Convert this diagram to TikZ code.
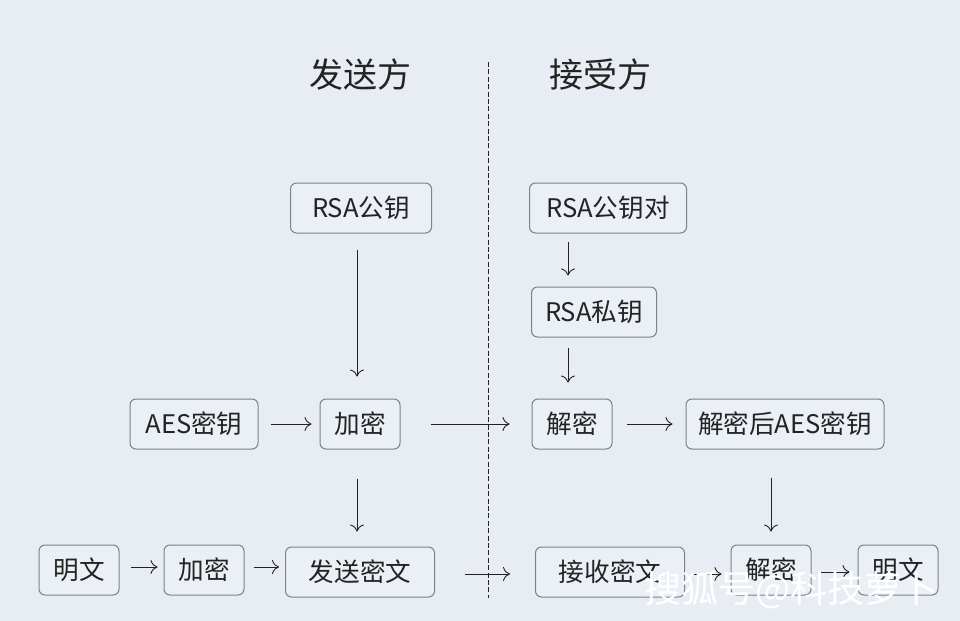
\documentclass[tikz,border=0pt]{standalone}
\usepackage{fontspec}
\setmainfont{Noto Sans CJK SC}
\usetikzlibrary{arrows.meta}

\definecolor{bgcol}{RGB}{232,237,243}
\definecolor{boxfill}{RGB}{235,240,246}
\definecolor{boxline}{RGB}{125,130,136}
\definecolor{txtcol}{RGB}{35,35,35}

\tikzset{
  keybox/.style={draw=boxline, fill=boxfill, rounded corners=3pt, line width=0.5pt,
    minimum height=25pt, inner sep=0pt, text=txtcol, font=\fontsize{12.8}{14}\selectfont},
  flow/.style={-{To[length=3.5pt,width=7pt]}, draw=txtcol, line width=0.45pt},
  side/.style={text=txtcol, font=\fontsize{17}{20}\selectfont}
}

\begin{document}
\begin{tikzpicture}[x=0.5pt,y=0.5pt,yscale=-1,xscale=1]
			\fill[bgcol] (0,0) rectangle (960,621);
			\useasboundingbox (0,0) rectangle (960,621);
			
			% Text Node
			\node[side] (send) at (360,75) {发送方};
			% Text Node
			\node[side] (recv) at (600,75) {接受方};
			%Straight Lines
			\coordinate (divtop) at (488,62);
			\coordinate (divbot) at (488,598);
			\draw[draw=txtcol, line width=0.45pt, dash pattern=on 2.5pt off 1.2pt] (divtop) -- (divbot);
			
			% sender side
			\node[keybox, minimum width=70.5pt] (rsapub) at (361,208) {RSA公钥};
			\node[keybox, minimum width=64pt] (aeskey) at (194,424) {AES密钥};
			\node[keybox, minimum width=40pt] (encmid) at (360,424) {加密};
			\node[keybox, minimum width=40pt] (plainl) at (79,570) {明文};
			\node[keybox, minimum width=40pt] (encbot) at (204,570) {加密};
			\node[keybox, minimum width=74.5pt] (sendct) at (360,572) {发送密文};
			
			% receiver side
			\node[keybox, minimum width=78.5pt] (rsapair) at (608,208) {RSA公钥对};
			\node[keybox, minimum width=62.5pt] (rsapriv) at (594,312) {RSA私钥};
			\node[keybox, minimum width=40pt] (decmid) at (572,424) {解密};
			\node[keybox, minimum width=99pt] (aesout) at (785,424) {解密后AES密钥};
			\node[keybox, minimum width=74.5pt] (recvct) at (610,572) {接收密文};
			\node[keybox, minimum width=40pt] (decbot) at (771,570) {解密};
			\node[keybox, minimum width=40pt] (plainr) at (898,570) {明文};
			
			% arrows
			\draw[flow, shorten <=8pt, shorten >=11pt] (rsapub.south -| encmid.center) ++(-3,0) coordinate (a1) -- (a1 |- encmid.north);
			\draw[flow, shorten <=6pt, shorten >=4pt] (aeskey) -- (encmid);
			\draw[flow, shorten <=15pt, shorten >=11pt] (encmid) -- (decmid);
			\draw[flow, shorten <=7pt, shorten >=6.5pt] (decmid) -- (aesout);
			\draw[flow, shorten <=4pt, shorten >=5.5pt] (rsapair.south -| decmid.center) ++(-4,0) coordinate (a2) -- (a2 |- rsapriv.north);
			\draw[flow, shorten <=5pt, shorten >=8pt] (rsapriv.south -| decmid.center) ++(-4,0) coordinate (a3) -- (a3 |- decmid.north);
			\draw[flow, shorten <=14.5pt, shorten >=7.5pt] (encmid.south) ++(-3,0) coordinate (a4) -- (a4 |- sendct.north);
			\draw[flow, shorten <=14pt, shorten >=6.5pt] (aesout.south -| decbot.center) -- (decbot.north);
			\draw[flow, shorten <=5.5pt, shorten >=3pt] ([yshift=-1.5]plainl.east) -- ([yshift=-1.5]encbot.west);
			\draw[flow, shorten <=4.5pt, shorten >=3pt] ([yshift=-1.5]encbot.east) -- ([yshift=-1.5]encbot.east -| sendct.west);
			\draw[flow, shorten <=15pt, shorten >=12.5pt] ([yshift=1]sendct.east) -- ([yshift=1]sendct.east -| recvct.west);
			\draw[flow, shorten <=4.5pt, shorten >=4.5pt] ([yshift=1]recvct.east) -- ([yshift=1]recvct.east -| decbot.west);
			\draw[flow, shorten <=4.5pt, shorten >=4pt] ([yshift=1]decbot.east) -- ([yshift=1]decbot.east -| plainr.west);
			
			% Text Node
			\node[text=white, font=\fontsize{18.5}{20}\selectfont, anchor=east] (mark) at (946,590) {搜狐号@科技萝卜};
			
\end{tikzpicture}
\end{document}
